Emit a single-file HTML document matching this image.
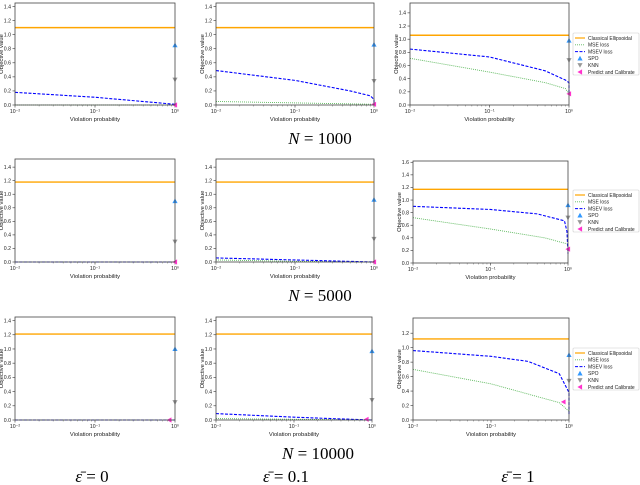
<!DOCTYPE html>
<html><head><meta charset="utf-8">
<style>
body{margin:0;background:#fff;width:640px;height:485px;overflow:hidden}
svg{display:block}
text{font-family:"Liberation Sans",sans-serif}
.ttl{font-family:"Liberation Serif",serif;font-size:17px}
</style></head>
<body>
<svg id="fig" width="640" height="485" viewBox="0 0 640 485" xmlns="http://www.w3.org/2000/svg">
<text class="ttl" x="320" y="144" text-anchor="middle"><tspan font-style="italic">N</tspan> = 1000</text>
<text class="ttl" x="320" y="301" text-anchor="middle"><tspan font-style="italic">N</tspan> = 5000</text>
<text class="ttl" x="318" y="459" text-anchor="middle"><tspan font-style="italic">N</tspan> = 10000</text>
<text class="ttl" x="92" y="482" text-anchor="middle"><tspan font-style="italic">ε̄</tspan> = 0</text>
<text class="ttl" x="286" y="482" text-anchor="middle"><tspan font-style="italic">ε̄</tspan> = 0.1</text>
<text class="ttl" x="518" y="482" text-anchor="middle"><tspan font-style="italic">ε̄</tspan> = 1</text>
</svg>
<script>
// ---- data (top level) ----
const xTickLabels = ["10\u207B\u00B2","10\u207B\u00B9","10\u2070"];
const xTickValues = [0.01,0.1,1];
// Row 1 (N=1000)
const r1c1_classical=[1.10]; const r1c1_mseX=[0.01,1]; const r1c1_mseY=[0.0,0.0];
const r1c1_msevX=[0.01,0.1,0.5,1,1]; const r1c1_msevY=[0.18,0.11,0.04,0.01,0.0];
const r1c1_spo=[1,0.85]; const r1c1_knn=[1,0.36]; const r1c1_pc=[1,0.0];
const r1c2_classical=[1.10]; const r1c2_mseX=[0.01,0.1,1]; const r1c2_mseY=[0.05,0.03,0.01];
const r1c2_msevX=[0.01,0.1,0.5,0.9,1,1]; const r1c2_msevY=[0.49,0.35,0.20,0.13,0.08,0.0];
const r1c2_spo=[1,0.86]; const r1c2_knn=[1,0.34]; const r1c2_pc=[1,0.01];
const r1c3_classical=[1.06]; const r1c3_mseX=[0.01,0.1,0.5,0.9,1]; const r1c3_mseY=[0.71,0.50,0.34,0.25,0.17];
const r1c3_msevX=[0.01,0.1,0.5,0.9,1,1]; const r1c3_msevY=[0.85,0.73,0.52,0.38,0.34,0.16];
const r1c3_spo=[1,0.98]; const r1c3_knn=[1,0.68]; const r1c3_pc=[1,0.17];
// Row 2 (N=5000)
const r2c1_classical=[1.18]; const r2c1_mseX=[0.01,1]; const r2c1_mseY=[0.0,0.0];
const r2c1_msevX=[0.01,1]; const r2c1_msevY=[0.0,0.0];
const r2c1_spo=[1,0.90]; const r2c1_knn=[1,0.30]; const r2c1_pc=[1,0.0];
const r2c2_classical=[1.18]; const r2c2_mseX=[0.01,0.1,1]; const r2c2_mseY=[0.03,0.01,0.0];
const r2c2_msevX=[0.01,0.1,1]; const r2c2_msevY=[0.06,0.03,0.0];
const r2c2_spo=[1,0.92]; const r2c2_knn=[1,0.34]; const r2c2_pc=[1,0.0];
const r2c3_classical=[1.17]; const r2c3_mseX=[0.01,0.1,0.5,1]; const r2c3_mseY=[0.72,0.54,0.40,0.30];
const r2c3_msevX=[0.01,0.1,0.4,0.9,0.97,1]; const r2c3_msevY=[0.90,0.85,0.78,0.67,0.50,0.15];
const r2c3_spo=[1,0.92]; const r2c3_knn=[1,0.72]; const r2c3_pc=[1,0.22];
// Row 3 (N=10000)
const r3c1_classical=[1.21]; const r3c1_mseX=[0.01,1]; const r3c1_mseY=[0.0,0.0];
const r3c1_msevX=[0.01,1]; const r3c1_msevY=[0.0,0.0];
const r3c1_spo=[1,1.00]; const r3c1_knn=[1,0.25]; const r3c1_pc=[0.85,0.0];
const r3c2_classical=[1.21]; const r3c2_mseX=[0.01,0.1,1]; const r3c2_mseY=[0.02,0.01,0.0];
const r3c2_msevX=[0.01,0.1,0.3,1]; const r3c2_msevY=[0.09,0.04,0.02,0.0];
const r3c2_spo=[1,0.97]; const r3c2_knn=[1,0.28]; const r3c2_pc=[0.85,0.01];
const r3c3_classical=[1.12]; const r3c3_mseX=[0.01,0.1,0.75,1]; const r3c3_mseY=[0.70,0.50,0.24,0.12];
const r3c3_msevX=[0.01,0.1,0.3,0.75,1,1]; const r3c3_msevY=[0.96,0.88,0.81,0.64,0.38,0.08];
const r3c3_spo=[1,0.90]; const r3c3_knn=[1,0.54]; const r3c3_pc=[0.85,0.25];

const legendLabels=["Classical Ellipsoidal","MSE loss","MSEV loss","SPO","KNN","Predict and Calibrate"];

const NS="http://www.w3.org/2000/svg";
const fig=document.getElementById('fig');
function mk(tag,attrs,parent){const e=document.createElementNS(NS,tag);for(const k in attrs)e.setAttribute(k,attrs[k]);(parent||fig).appendChild(e);return e;}

const panels=[
 {id:'r1c1',L:15,R:175,T:3,B:105,ymax:1.45,yt:[0,0.2,0.4,0.6,0.8,1.0,1.2,1.4],c:[r1c1_classical,r1c1_mseX,r1c1_mseY,r1c1_msevX,r1c1_msevY,r1c1_spo,r1c1_knn,r1c1_pc]},
 {id:'r1c2',L:216,R:374,T:3,B:105,ymax:1.45,yt:[0,0.2,0.4,0.6,0.8,1.0,1.2,1.4],c:[r1c2_classical,r1c2_mseX,r1c2_mseY,r1c2_msevX,r1c2_msevY,r1c2_spo,r1c2_knn,r1c2_pc]},
 {id:'r1c3',L:410,R:569,T:3,B:105,ymax:1.55,yt:[0,0.2,0.4,0.6,0.8,1.0,1.2,1.4],c:[r1c3_classical,r1c3_mseX,r1c3_mseY,r1c3_msevX,r1c3_msevY,r1c3_spo,r1c3_knn,r1c3_pc],leg:[573,33]},
 {id:'r2c1',L:15,R:175,T:159,B:262,ymax:1.52,yt:[0,0.2,0.4,0.6,0.8,1.0,1.2,1.4],c:[r2c1_classical,r2c1_mseX,r2c1_mseY,r2c1_msevX,r2c1_msevY,r2c1_spo,r2c1_knn,r2c1_pc]},
 {id:'r2c2',L:216,R:374,T:159,B:262,ymax:1.52,yt:[0,0.2,0.4,0.6,0.8,1.0,1.2,1.4],c:[r2c2_classical,r2c2_mseX,r2c2_mseY,r2c2_msevX,r2c2_msevY,r2c2_spo,r2c2_knn,r2c2_pc]},
 {id:'r2c3',L:413,R:568,T:161,B:263,ymax:1.62,yt:[0,0.2,0.4,0.6,0.8,1.0,1.2,1.4,1.6],c:[r2c3_classical,r2c3_mseX,r2c3_mseY,r2c3_msevX,r2c3_msevY,r2c3_spo,r2c3_knn,r2c3_pc],leg:[573,190]},
 {id:'r3c1',L:15,R:175,T:317,B:420,ymax:1.45,yt:[0,0.2,0.4,0.6,0.8,1.0,1.2,1.4],c:[r3c1_classical,r3c1_mseX,r3c1_mseY,r3c1_msevX,r3c1_msevY,r3c1_spo,r3c1_knn,r3c1_pc]},
 {id:'r3c2',L:216,R:372,T:317,B:420,ymax:1.45,yt:[0,0.2,0.4,0.6,0.8,1.0,1.2,1.4],c:[r3c2_classical,r3c2_mseX,r3c2_mseY,r3c2_msevX,r3c2_msevY,r3c2_spo,r3c2_knn,r3c2_pc]},
 {id:'r3c3',L:413,R:569,T:318,B:420,ymax:1.41,yt:[0,0.2,0.4,0.6,0.8,1.0,1.2],c:[r3c3_classical,r3c3_mseX,r3c3_mseY,r3c3_msevX,r3c3_msevY,r3c3_spo,r3c3_knn,r3c3_pc],leg:[573,348]}
];

function tri(g,x,y,dir,color,name){
  const s=2.6;let pts;
  if(dir==='up')pts=[[x,y-s],[x-s,y+s*0.8],[x+s,y+s*0.8]];
  else if(dir==='down')pts=[[x,y+s],[x-s,y-s*0.8],[x+s,y-s*0.8]];
  else pts=[[x-s,y],[x+s*0.8,y-s],[x+s*0.8,y+s]];
  const p=mk('polygon',{points:pts.map(a=>a.join(',')).join(' '),fill:color},g);
  
  
  return p;
}

panels.forEach(P=>{
  const g=mk('g',{});
  
  
  const xs=v=>P.L+(Math.log10(v)+2)/2*(P.R-P.L);
  const ys=v=>P.B-v/P.ymax*(P.B-P.T);
  // y ticks
  P.yt.forEach(v=>{
    const y=ys(v);
    mk('line',{x1:P.L-2.5,x2:P.L,y1:y,y2:y,stroke:'#333','stroke-width':0.6},g);
    const t=mk('text',{x:P.L-4,y:y+1.8,'font-size':5.2,'text-anchor':'end',fill:'#222'},g);
    t.textContent=v.toFixed(1);
    
    
  });
  // x ticks
  xTickValues.forEach((v,i)=>{
    const x=xs(v);
    mk('line',{x1:x,x2:x,y1:P.B,y2:P.B+2.5,stroke:'#333','stroke-width':0.6},g);
    const t=mk('text',{x:x,y:P.B+8,'font-size':5.2,'text-anchor':'middle',fill:'#222'},g);
    t.textContent=xTickLabels[i];
    
    
  });
  for(let k=-2;k<0;k++)for(let m=2;m<10;m++){
    const x=xs(m*Math.pow(10,k));
    mk('line',{x1:x,x2:x,y1:P.B,y2:P.B+1.5,stroke:'#555','stroke-width':0.4},g);
  }
  const xl=mk('text',{x:(P.L+P.R)/2,y:P.B+16,'font-size':5.8,'text-anchor':'middle',fill:'#222'},g);
  xl.textContent='Violation probability';
  
  
  const cy=(P.T+P.B)/2, cx=P.L-12;
  const yl=mk('text',{x:cx,y:cy,'font-size':5.8,'text-anchor':'middle',fill:'#222',transform:`rotate(-90 ${cx} ${cy})`},g);
  yl.textContent='Objective value';
  
  
  const [cls,mX,mY,vX,vY,spo,knn,pc]=P.c;
  const ol=mk('line',{x1:xs(0.01),x2:xs(1),y1:ys(cls[0]),y2:ys(cls[0]),stroke:'#ffa500','stroke-width':1.4},g);
  
  
  const gl=mk('polyline',{points:mX.map((x,i)=>xs(x)+','+ys(mY[i])).join(' '),fill:'none',stroke:'#5cb85c','stroke-width':0.9,'stroke-dasharray':'1,1'},g);
  
  
  const bl=mk('polyline',{points:vX.map((x,i)=>xs(x)+','+ys(vY[i])).join(' '),fill:'none',stroke:'#0000ff','stroke-width':1.1,'stroke-dasharray':'3,1.5'},g);
  
  
  tri(g,xs(spo[0]),ys(spo[1]),'up','#3399ff','spo-marker');
  tri(g,xs(knn[0]),ys(knn[1]),'down','#999999','knn-marker');
  tri(g,xs(pc[0]),ys(pc[1]),'left','#ff33cc','predict-calibrate-marker');
  const fr=mk('rect',{x:P.L,y:P.T,width:P.R-P.L,height:P.B-P.T,fill:'none',stroke:'#444','stroke-width':0.8},g);
  
  
  if(P.leg){
    const [lx,ly]=P.leg;
    const lg=mk('g',{},g);
    
    
    mk('rect',{x:lx,y:ly,width:66,height:42,fill:'#fff',stroke:'#ccc','stroke-width':0.6,rx:1},lg);
    legendLabels.forEach((lab,i)=>{
      const yy=ly+5+i*6.8;
      if(i===0)mk('line',{x1:lx+2,x2:lx+12,y1:yy,y2:yy,stroke:'#ffa500','stroke-width':1.2},lg);
      if(i===1)mk('line',{x1:lx+2,x2:lx+12,y1:yy,y2:yy,stroke:'#5cb85c','stroke-width':0.8,'stroke-dasharray':'1,1'},lg);
      if(i===2)mk('line',{x1:lx+2,x2:lx+12,y1:yy,y2:yy,stroke:'#0000ff','stroke-width':1,'stroke-dasharray':'3,1.5'},lg);
      if(i===3)tri(lg,lx+7,yy,'up','#3399ff','legend-spo-marker');
      if(i===4)tri(lg,lx+7,yy,'down','#999999','legend-knn-marker');
      if(i===5)tri(lg,lx+7,yy,'left','#ff33cc','legend-pc-marker');
      const t=mk('text',{x:lx+15,y:yy+1.8,'font-size':5,fill:'#222'},lg);
      t.textContent=lab;
      
      
    });
  }
});
</script>
</body></html>
